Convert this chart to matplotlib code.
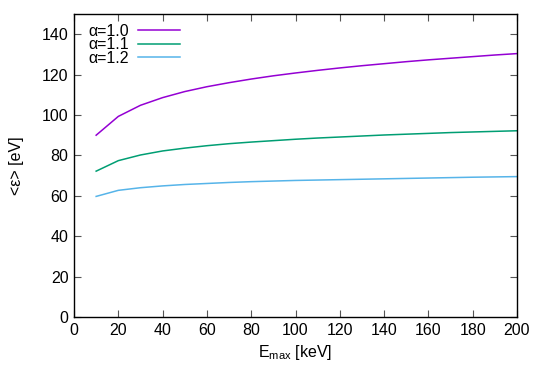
import matplotlib
matplotlib.use("Agg")
import matplotlib.pyplot as plt

plt.rcParams["font.family"] = ["Liberation Sans", "DejaVu Sans"]
plt.rcParams["mathtext.fontset"] = "custom"
plt.rcParams["mathtext.rm"] = "Liberation Sans"
plt.rcParams["mathtext.default"] = "regular"

# E_max in keV
e_max = [10, 20, 30, 40, 50, 60, 70, 80, 90, 100,
         110, 120, 130, 140, 150, 160, 170, 180, 190, 200]
# mean energy <eps> in eV for each alpha
eps_a10 = [90.0, 99.3, 104.8, 108.6, 111.6, 114.0, 116.0, 117.8, 119.4, 120.8,
           122.1, 123.3, 124.4, 125.4, 126.4, 127.3, 128.1, 128.9, 129.7, 130.4]
eps_a11 = [72.2, 77.4, 80.2, 82.2, 83.6, 84.8, 85.8, 86.6, 87.3, 88.0,
           88.6, 89.1, 89.6, 90.1, 90.5, 90.9, 91.3, 91.6, 91.9, 92.2]
eps_a12 = [59.7, 62.7, 64.0, 64.9, 65.6, 66.1, 66.6, 67.0, 67.3, 67.6,
           67.8, 68.0, 68.2, 68.4, 68.6, 68.8, 69.0, 69.2, 69.35, 69.5]
labels = ["α=1.0", "α=1.1", "α=1.2"]
colors = ["#9400d3", "#009e73", "#56b4e9"]

fs = 11.5

fig = plt.figure(figsize=(5.45, 3.81), dpi=100)
ax = fig.add_axes([74 / 545, 1 - 317 / 381, 443 / 545, 303 / 381])

for ys, lab, c in zip([eps_a10, eps_a11, eps_a12], labels, colors):
    ax.plot(e_max, ys, color=c, lw=1.1, label=lab)

ax.set_xlim(0, 200)
ax.set_ylim(0, 150)
ax.set_xticks(range(0, 201, 20))
ax.set_yticks(range(0, 141, 20))
ax.tick_params(direction="in", length=5, width=0.8, top=True, right=True,
               labelsize=fs, pad=4, color="#555555")
for s in ax.spines.values():
    s.set_linewidth(1.0)

ax.set_xlabel(r"E$_{max}$ [keV]", fontsize=fs, labelpad=4)
ax.set_ylabel("<ε> [eV]", fontsize=fs, labelpad=13)

ax.legend(loc="upper left", frameon=False, markerfirst=False, fontsize=fs,
          handlelength=2.6, labelspacing=-0.08, borderaxespad=0.2,
          handletextpad=0.6, borderpad=0.4,
          bbox_to_anchor=(0.01, 1.0))

fig.savefig("out.png", dpi=100)
